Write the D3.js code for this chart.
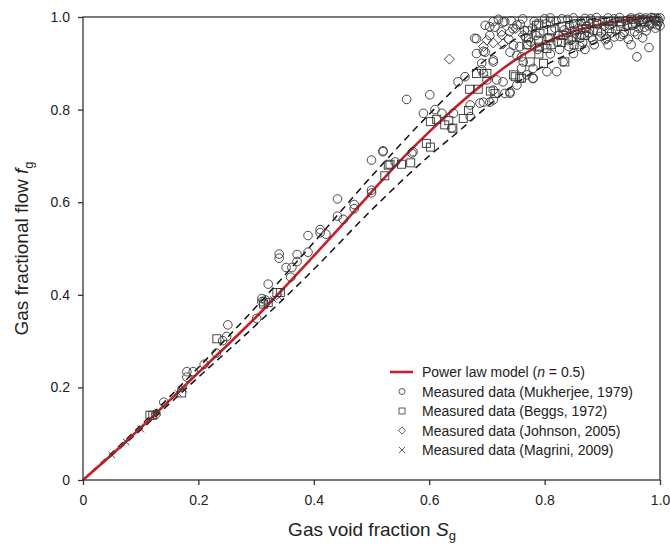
<!DOCTYPE html>
<html>
<head>
<meta charset="utf-8">
<script src="https://cdn.jsdelivr.net/npm/d3@7"></script>
<style>
  body { margin: 0; background: #fff; }
  svg text { font-family: "Liberation Sans", Arial, sans-serif; fill: #222; }
</style>
</head>
<body>
<div id="chart"></div>
<script>
// axis ticks
var sgTicks = [0, 0.2, 0.4, 0.6, 0.8, 1.0];
var fgTicks = [0, 0.2, 0.4, 0.6, 0.8, 1.0];

// power law model (n = 0.5)
var modelCurve = [[0,0],[0.05,0.055],[0.1,0.113],[0.15,0.172],[0.2,0.232],[0.25,0.291],[0.3,0.352],
  [0.35,0.417],[0.4,0.484],[0.45,0.552],[0.5,0.622],[0.55,0.69],[0.6,0.752],[0.65,0.81],
  [0.7,0.862],[0.75,0.908],[0.8,0.944],[0.85,0.969],[0.9,0.985],[0.95,0.995],[1,1]];
// dashed bounds
var upperBound = [[0,0],[0.1,0.118],[0.2,0.243],[0.3,0.374],[0.4,0.513],[0.5,0.656],[0.6,0.79],
  [0.65,0.852],[0.7,0.91],[0.75,0.953],[0.8,0.979],[0.9,0.997],[1,1]];
var lowerBound = [[0,0],[0.1,0.108],[0.2,0.222],[0.3,0.335],[0.4,0.455],[0.5,0.583],[0.6,0.70],
  [0.65,0.752],[0.7,0.806],[0.75,0.856],[0.8,0.895],[0.9,0.95],[1,1]];

var mukherjee = [
  [0.126,0.142],[0.14,0.168],[0.18,0.222],[0.18,0.234],[0.191,0.234],[0.21,0.25],[0.231,0.274],
  [0.242,0.301],[0.249,0.31],[0.251,0.335],[0.301,0.349],[0.31,0.385],[0.31,0.392],[0.316,0.389],
  [0.321,0.423],[0.34,0.479],[0.34,0.488],[0.352,0.459],[0.362,0.459],[0.36,0.438],[0.371,0.472],
  [0.371,0.487],[0.39,0.492],[0.39,0.528],[0.411,0.534],[0.411,0.541],[0.421,0.531],[0.441,0.57],
  [0.441,0.607],[0.451,0.563],[0.47,0.586],[0.47,0.595],[0.50,0.62],[0.50,0.626],[0.50,0.691],
  [0.52,0.709],[0.52,0.711],[0.541,0.687],[0.561,0.822],[0.57,0.706],[0.572,0.709],
  [0.59,0.792],[0.601,0.832],[0.61,0.80],[0.622,0.792],[0.639,0.76],[0.642,0.792],[0.65,0.86],
  [0.662,0.871],[0.671,0.81],[0.671,0.785],[0.688,0.814],[0.694,0.878],[0.691,0.90],[0.70,0.864],
  [0.711,0.821],[0.711,0.842],[0.711,0.903],[0.717,0.864],[0.731,0.835],[0.74,0.835],[0.752,0.853],
  [0.76,0.889],[0.769,0.875],[0.78,0.868],[0.78,0.889],[0.679,0.954],[0.705,0.979],[0.711,0.99],
  [0.731,0.99],[0.752,0.983],[0.682,0.921],[0.694,0.926],[0.711,0.907],[0.691,0.886],[0.757,0.936],
  [0.76,0.914],[0.804,0.882],[0.821,0.882],[0.832,0.903],[0.85,0.921],[0.861,0.936],[0.884,0.95],
  [0.907,0.954],[0.931,0.958],[0.96,0.914],[0.981,0.934],
  [0.697,0.982],[0.714,0.978],[0.728,0.989],[0.682,0.953],[0.705,0.96],[0.697,0.924],[0.74,0.924],
  [0.746,0.939],[0.752,0.917],[0.763,0.903],[0.78,0.867],[0.74,0.838],[0.728,0.86],[0.694,0.816],
  [0.705,0.816],
  [0.72,0.995],[0.725,0.968],[0.742,0.992],[0.745,0.975],[0.738,0.952],[0.762,0.996],[0.758,0.984],
  [0.765,0.971],[0.768,0.955],[0.771,0.94],[0.782,0.99],[0.779,0.976],[0.785,0.96],[0.776,0.946],
  [0.788,0.93],[0.8,0.996],[0.803,0.985],[0.798,0.97],[0.806,0.955],[0.801,0.94],[0.81,0.92],
  [0.82,0.991],[0.818,0.976],[0.824,0.96],[0.822,0.946],[0.826,0.93],[0.84,0.995],[0.843,0.981],
  [0.838,0.966],[0.846,0.95],[0.842,0.936],[0.862,0.99],[0.858,0.975],[0.864,0.96],[0.866,0.945],
  [0.88,0.996],[0.878,0.985],[0.884,0.97],[0.881,0.956],[0.886,0.94],[0.9,0.991],[0.903,0.98],
  [0.898,0.966],[0.905,0.951],[0.92,0.996],[0.918,0.986],[0.923,0.972],[0.921,0.957],[0.94,0.992],
  [0.943,0.981],[0.938,0.967],[0.945,0.952],[0.96,0.996],[0.958,0.986],[0.963,0.976],[0.961,0.962],
  [0.975,0.998],[0.978,0.99],[0.981,0.981],[0.976,0.97],[0.99,0.996],[0.988,0.986],[0.992,0.976],
  [1.0,0.998],[0.998,0.99],[1.0,0.981],[0.97,0.955],[0.95,0.94],[0.91,0.94],[0.87,0.93],
  [0.81,0.998],[0.83,0.996],[0.85,0.998],[0.87,0.997],[0.89,0.999],[0.91,0.998],[0.93,0.999],
  [0.95,0.998],[0.965,0.999],[0.985,0.999],[0.996,0.997],[0.853,0.985],[0.873,0.98],[0.893,0.986],
  [0.913,0.983],[0.933,0.987],[0.953,0.982],[0.968,0.988],[0.983,0.985],[0.993,0.991],
  [0.834,0.972],[0.856,0.962],[0.876,0.966],[0.896,0.958],[0.916,0.966],[0.936,0.962],[0.956,0.968],
  [0.973,0.978],[0.995,0.983]
];

var beggs = [
  [0.116,0.14],[0.121,0.14],[0.171,0.188],[0.232,0.305],[0.313,0.38],[0.321,0.383],[0.336,0.405],
  [0.342,0.405],[0.523,0.657],[0.529,0.68],[0.552,0.682],[0.568,0.685],[0.532,0.682],[0.595,0.727],
  [0.602,0.719],[0.602,0.774],[0.613,0.779],[0.627,0.767],[0.634,0.776],[0.641,0.76],[0.659,0.781],
  [0.668,0.798],[0.67,0.844],[0.685,0.844],[0.682,0.878],[0.70,0.878],[0.706,0.84],[0.714,0.835],
  [0.746,0.875],[0.76,0.868],[0.804,0.932],[0.841,0.95],[0.861,0.956],[0.798,0.90],[0.835,0.903],
  [0.775,0.903],[0.749,0.871],[0.757,0.868],[0.786,0.982],
  [0.77,0.97],[0.772,0.955],[0.769,0.94],[0.79,0.985],[0.792,0.965],[0.789,0.95],[0.791,0.935],
  [0.79,0.92],[0.81,0.99],[0.812,0.97],[0.809,0.955],[0.811,0.94],[0.83,0.98],[0.832,0.96],
  [0.829,0.945],[0.85,0.985],[0.852,0.97],[0.849,0.955],[0.851,0.94],[0.87,0.99],[0.872,0.975],
  [0.869,0.96],[0.89,0.985],[0.892,0.97],[0.91,0.99],[0.912,0.975],[0.93,0.99],[0.932,0.98],
  [0.95,0.995],[0.952,0.985],[0.97,0.995],[0.972,0.99],[0.99,0.998]
];

var johnson = [[0.635,0.909],[0.694,0.936],[0.711,0.944],[0.726,0.961],[0.74,0.968],[0.763,0.961],
  [0.728,0.942],[0.70,0.95],[0.75,0.975]];

var magrini = [[0.05,0.054],[0.075,0.082],[0.1,0.11],[0.13,0.146],[0.165,0.187],[0.175,0.196],
  [0.33,0.39],[0.34,0.395]];

var legendLabels = ["Power law model (", "Measured data (Mukherjee, 1979)", "Measured data (Beggs, 1972)",
  "Measured data (Johnson, 2005)", "Measured data (Magrini, 2009)"];

var width = 670, height = 547;
var margin = {top: 17, right: 10, bottom: 67, left: 83};
var axisColor = "#333";
var markStroke = "#333";

var svg = d3.select("#chart").append("svg")
  .attr("width", width)
  .attr("height", height);

var x = d3.scaleLinear().domain([0, 1]).range([margin.left, width - margin.right]);
var y = d3.scaleLinear().domain([0, 1]).range([height - margin.bottom, margin.top]);

var fmt = function(d) { return d === 0 ? "0" : d3.format(".1f")(d); };

// lines
var line = d3.line()
  .x(function(d) { return x(d[0]); })
  .y(function(d) { return y(d[1]); })
  .curve(d3.curveMonotoneX);

svg.append("path").datum(upperBound)
  .attr("d", line).attr("fill", "none")
  .attr("stroke", "#111").attr("stroke-width", 1.5).attr("stroke-dasharray", "7,5");
svg.append("path").datum(lowerBound)
  .attr("d", line).attr("fill", "none")
  .attr("stroke", "#111").attr("stroke-width", 1.5).attr("stroke-dasharray", "7,5");
svg.append("path").datum(modelCurve)
  .attr("d", line).attr("fill", "none")
  .attr("stroke", "#c3212b").attr("stroke-width", 2.6);

// markers
function diamondPath(s) {
  return "M0," + (-s) + "L" + s + ",0L0," + s + "L" + (-s) + ",0Z";
}
var crossPath = d3.symbol().type(d3.symbolTimes).size(30)();

var g = svg.append("g").attr("fill", "none").attr("stroke", markStroke).attr("stroke-width", 0.9);

g.selectAll(".circ").data(mukherjee).enter().append("circle")
  .attr("cx", function(d) { return x(d[0]); })
  .attr("cy", function(d) { return y(d[1]); })
  .attr("r", 4.3);

g.selectAll(".sq").data(beggs).enter().append("rect")
  .attr("x", function(d) { return x(d[0]) - 4; })
  .attr("y", function(d) { return y(d[1]) - 4; })
  .attr("width", 8).attr("height", 8);

g.selectAll(".dia").data(johnson).enter().append("path")
  .attr("d", diamondPath(5))
  .attr("transform", function(d) { return "translate(" + x(d[0]) + "," + y(d[1]) + ")"; });

g.selectAll(".crs").data(magrini).enter().append("path")
  .attr("d", crossPath)
  .attr("transform", function(d) { return "translate(" + x(d[0]) + "," + y(d[1]) + ")"; });

// axes frame
var x0 = x(0), x1 = x(1), y0 = y(0), y1 = y(1);
svg.append("rect")
  .attr("x", x0).attr("y", y1).attr("width", x1 - x0).attr("height", y0 - y1)
  .attr("fill", "none").attr("stroke", axisColor).attr("stroke-width", 1.3);

var xAxis = svg.append("g").attr("transform", "translate(0," + y0 + ")")
  .call(d3.axisBottom(x).tickValues(sgTicks).tickFormat(fmt).tickSize(5).tickPadding(10));
var yAxis = svg.append("g").attr("transform", "translate(" + x0 + ",0)")
  .call(d3.axisLeft(y).tickValues(fgTicks).tickFormat(fmt).tickSize(5).tickPadding(8));

[xAxis, yAxis].forEach(function(a) {
  a.select(".domain").remove();
  a.selectAll(".tick line").attr("stroke", axisColor).attr("stroke-width", 1.3);
  a.selectAll(".tick text").attr("font-size", 14).attr("fill", "#222")
    .style("font-family", "Liberation Sans, Arial, sans-serif");
});

// axis titles
var xt = svg.append("text")
  .attr("x", 372).attr("y", 536)
  .attr("text-anchor", "middle").attr("font-size", 19);
xt.append("tspan").text("Gas void fraction ");
xt.append("tspan").attr("font-style", "italic").text("S");
xt.append("tspan").attr("font-size", 13).attr("dy", 4).text("g");

var yt = svg.append("text")
  .attr("transform", "translate(28," + ((y0 + y1) / 2) + ") rotate(-90)")
  .attr("text-anchor", "middle").attr("font-size", 19);
yt.append("tspan").text("Gas fractional flow ");
yt.append("tspan").attr("font-style", "italic").text("f");
yt.append("tspan").attr("font-size", 13).attr("dy", 5).text("g");

// legend
var lx = 390, ly = 372, lstep = 19.5;
var leg = svg.append("g");
leg.append("line")
  .attr("x1", lx).attr("x2", lx + 23).attr("y1", ly).attr("y2", ly)
  .attr("stroke", "#c3212b").attr("stroke-width", 2.6);

var sym = leg.append("g").attr("fill", "none").attr("stroke", markStroke).attr("stroke-width", 0.8);
var sx = lx + 12;
sym.append("circle").attr("cx", sx).attr("cy", ly + lstep).attr("r", 3);
sym.append("rect").attr("x", sx - 3).attr("y", ly + 2 * lstep - 3).attr("width", 6).attr("height", 6);
sym.append("path").attr("d", diamondPath(3.6))
  .attr("transform", "translate(" + sx + "," + (ly + 3 * lstep) + ")");
sym.append("path").attr("d", d3.symbol().type(d3.symbolTimes).size(26)())
  .attr("transform", "translate(" + sx + "," + (ly + 4 * lstep) + ")");

legendLabels.forEach(function(t, i) {
  var tx = leg.append("text").attr("x", lx + 32).attr("y", ly + i * lstep + 5).attr("font-size", 14);
  tx.append("tspan").text(t);
  if (i === 0) {
    tx.append("tspan").attr("font-style", "italic").text("n");
    tx.append("tspan").text(" = 0.5)");
  }
});
</script>
</body>
</html>
